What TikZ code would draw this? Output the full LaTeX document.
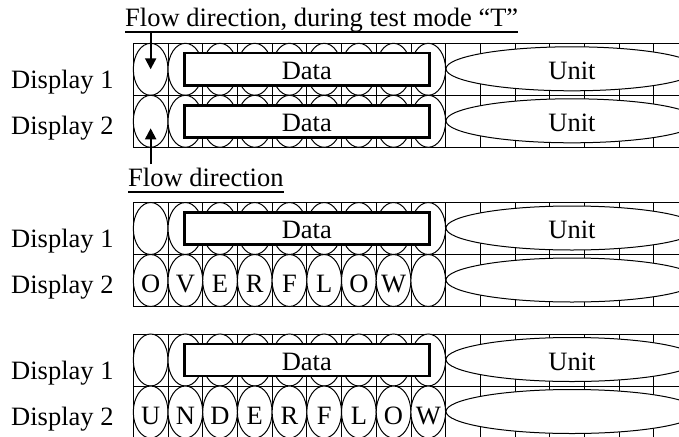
\documentclass[tikz,border=0pt]{standalone}
\usepackage{fontspec}
\setmainfont{Liberation Serif}
\usetikzlibrary{arrows.meta,positioning,shapes.geometric,calc}

\tikzset{
  gridline/.style={line width=0.8pt},
  cell/.style={draw, ellipse, fill=white, line width=1pt, minimum width=34.7pt, minimum height=52pt, inner sep=0pt},
  unitcell/.style={draw, ellipse, fill=white, line width=1pt, minimum width=252pt, minimum height=44pt, inner sep=0pt, text height=21pt, text depth=0pt},
  databox/.style={draw, fill=white, line width=2.4pt, minimum width=245pt, minimum height=32pt, inner sep=0pt, text height=20pt, text depth=0pt},
  letter/.style={anchor=base, inner sep=0pt},
  heading/.style={anchor=base west, inner sep=0pt},
  rowlabel/.style={anchor=base west, inner sep=0pt},
  underline/.style={line width=2pt},
  flowarrow/.style={line width=2pt, -{Triangle[length=11pt,width=11pt]}}
}

\begin{document}
\begin{tikzpicture}[x=1pt, y=-1pt, font=\fontsize{26.5}{30}\selectfont]
  \useasboundingbox (0,0) rectangle (679,436);
  \clip (0,0) rectangle (679,436);

  % Headings
  \node[heading] (title) at (125,26.7) {Flow direction, during test mode “T”};
  \node[heading] (flow) at (128,186.7) {Flow direction};
  \draw[underline] ([yshift=-5pt]title.base west) -- ([yshift=-5pt]title.base east);
  \draw[underline] ([yshift=-5pt]flow.base west) -- ([yshift=-5pt]flow.base east);

  % Displays
  \foreach \blk/\ytop in {A/43.3, B/202.5, C/334} {
    \foreach \r in {0,1,2}
      \draw[gridline] (133.3,\ytop+\r*52) -- (679,\ytop+\r*52);
    \foreach \c in {0,...,15}
      \draw[gridline] (133.3+\c*34.7,\ytop) -- (133.3+\c*34.7,\ytop+104);
    \foreach \r in {1,2}
      \foreach \c in {1,...,9}
        \node[cell] (\blk-\r-\c) at (115.95+\c*34.7,\ytop+\r*52-26) {};
    \node[databox] (\blk-1-data) at ($(\blk-1-2)!.5!(\blk-1-9)$) {Data};
    \node[unitcell] (\blk-1-unit) at (572,\ytop+25.5) {Unit};
    \node[unitcell] (\blk-2-unit) at (572,\ytop+77.5) {};
    \node[rowlabel] (\blk-lab1) at (11,\ytop+45) {Display 1};
    \node[rowlabel] (\blk-lab2) at (11,\ytop+91) {Display 2};
  }

  % Second line of the first display
  \node[databox] (A-2-data) at ($(A-2-2)!.5!(A-2-9)$) {Data};
  \node[unitcell, draw=none, fill=none] (A-2-unittext) at (A-2-unit) {Unit};

  % Overflow and underflow
  \foreach \ch [count=\c] in {O,V,E,R,F,L,O,W}
    \node[letter] (B-2-\c-ch) at ([yshift=-12pt]B-2-\c.center) {\ch};
  \foreach \ch [count=\c] in {U,N,D,E,R,F,L,O,W}
    \node[letter] (C-2-\c-ch) at ([yshift=-12pt]C-2-\c.center) {\ch};

  % Arrows
  \coordinate (topstart) at ([yshift=-5pt]title.base west);
  \coordinate (lowstart) at ([yshift=4pt]flow.north west);
  \draw[flowarrow] (topstart -| A-1-1) -- (A-1-1.center);
  \draw[flowarrow] (lowstart -| A-2-1) -- ([yshift=-7pt]A-2-1.center);
\end{tikzpicture}
\end{document}
